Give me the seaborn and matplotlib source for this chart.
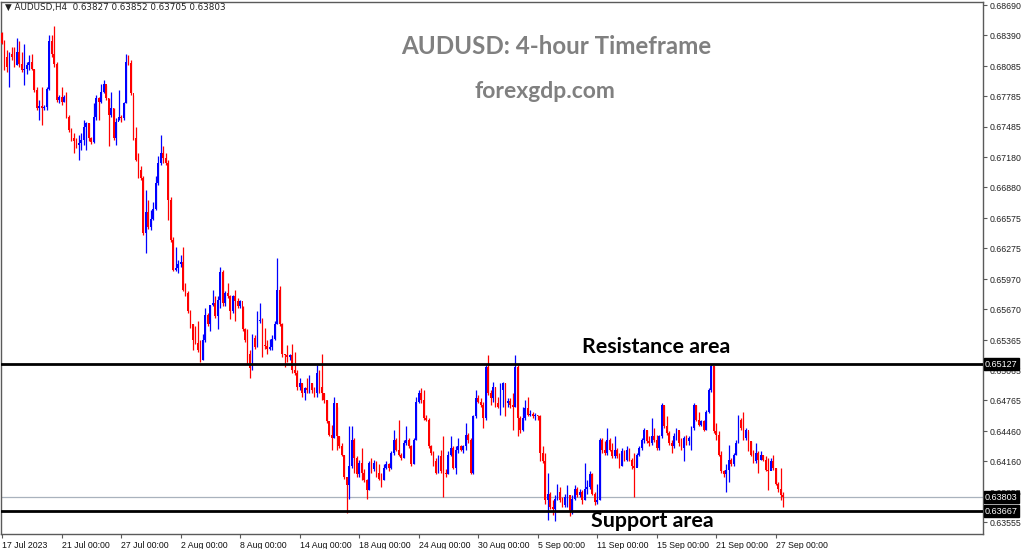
import matplotlib
matplotlib.use("Agg")
import matplotlib.pyplot as plt
import matplotlib.transforms as mtransforms
import seaborn as sns
import numpy as np
import pandas as pd

# ---------------- data (AUDUSD H4) ----------------
first_open = 0.6841

closes = [
    # 17 Jul - 21 Jul
    .6831, .6818, .6808, .6821, .6818, .6810, .6823, .6811, .6805, .6806, .6810, .6813,
    .6806, .6785, .6767, .6769, .6767, .6768, .6786, .6833, .6821, .6811, .6775, .6778,
    # 21 Jul - 27 Jul
    .6773, .6778, .6758, .6745, .6737, .6734, .6730, .6732, .6735, .6748, .6752, .6737,
    .6733, .6758, .6777, .6773, .6783, .6791, .6777, .6760, .6767, .6737, .6753, .6758,
    # 27 Jul - 2 Aug
    .6757, .6772, .6813, .6812, .6782, .6737, .6715, .6705, .6697, .6643, .6664, .6649,
    .6657, .6667, .6692, .6712, .6722, .6717, .6712, .6676, .6636, .6606, .6608, .6612,
    # 2 Aug - 8 Aug
    .6614, .6586, .6583, .6565, .6552, .6537, .6534, .6527, .6517, .6537, .6561, .6552,
    .6571, .6573, .6560, .6576, .6604, .6573, .6583, .6580, .6565, .6580, .6575, .6570,
    # 8 Aug - 14 Aug
    .6575, .6547, .6537, .6523, .6509, .6539, .6530, .6555, .6556, .6532, .6531, .6528,
    .6530, .6538, .6552, .6586, .6552, .6523, .6522, .6520, .6522, .6507, .6504, .6490,
    # 14 Aug - 18 Aug
    .6494, .6484, .6489, .6487, .6494, .6487, .6484, .6504, .6490, .6484, .6477, .6456,
    .6442, .6439, .6474, .6441, .6431, .6422, .6401, .6393, .6411, .6437, .6419, .6403,
    # 18 Aug - 24 Aug
    .6414, .6404, .6398, .6388, .6414, .6408, .6414, .6404, .6399, .6398, .6409, .6413,
    .6409, .6424, .6437, .6427, .6422, .6419, .6434, .6437, .6431, .6413, .6437, .6475,
    # 24 Aug - 30 Aug
    .6484, .6477, .6459, .6457, .6431, .6424, .6416, .6404, .6421, .6406, .6404, .6403,
    .6422, .6429, .6409, .6427, .6431, .6427, .6431, .6442, .6437, .6404, .6461, .6479,
    # 30 Aug - 5 Sep
    .6475, .6472, .6459, .6510, .6484, .6479, .6490, .6474, .6470, .6487, .6494, .6474,
    .6476, .6472, .6470, .6510, .6459, .6447, .6459, .6469, .6462, .6463, .6461, .6462,
    # 5 Sep - 11 Sep
    .6461, .6424, .6416, .6378, .6384, .6371, .6369, .6379, .6386, .6378, .6373, .6381,
    .6383, .6366, .6379, .6389, .6383, .6386, .6378, .6389, .6391, .6403, .6384, .6376,
    # 11 Sep - 15 Sep
    .6378, .6437, .6427, .6424, .6437, .6427, .6421, .6427, .6421, .6411, .6426, .6417,
    .6427, .6417, .6411, .6409, .6422, .6429, .6437, .6447, .6436, .6434, .6441, .6437,
    # 15 Sep - 21 Sep
    .6429, .6441, .6472, .6451, .6444, .6434, .6431, .6441, .6447, .6434, .6429, .6439,
    .6436, .6439, .6449, .6472, .6457, .6452, .6456, .6447, .6465, .6487, .6511, .6446,
    # 21 Sep - 27 Sep and after
    .6442, .6422, .6406, .6403, .6407, .6417, .6413, .6422, .6434, .6457, .6449, .6439,
    .6447, .6436, .6422, .6416, .6424, .6417, .6422, .6417, .6407, .6406, .6416, .6409,
    .6394, .6389, .63827, .63803,
]

highs = [
    .6842, .6834, .6825, .6823, .6828, .6828, .6836, .6833, .6823, .6830, .6813, .6820,
    .6821, .6806, .6788, .6775, .6788, .6770, .6788, .6839, .6839, .6848, .6813, .6780,
    .6788, .6780, .6783, .6760, .6747, .6742, .6737, .6740, .6742, .6755, .6753, .6752,
    .6738, .6772, .6780, .6778, .6791, .6795, .6790, .6777, .6783, .6767, .6757, .6785,
    .6760, .6773, .6821, .6820, .6815, .6780, .6748, .6722, .6709, .6699, .6686, .6676,
    .6666, .6674, .6699, .6719, .6740, .6729, .6722, .6715, .6679, .6639, .6629, .6616,
    .6621, .6629, .6593, .6585, .6566, .6552, .6550, .6555, .6537, .6543, .6568, .6563,
    .6571, .6586, .6580, .6580, .6609, .6606, .6585, .6593, .6581, .6581, .6586, .6578,
    .6576, .6570, .6548, .6547, .6527, .6543, .6542, .6565, .6573, .6558, .6548, .6537,
    .6538, .6542, .6555, .6618, .6590, .6553, .6523, .6532, .6523, .6533, .6525, .6507,
    .6499, .6494, .6490, .6499, .6502, .6494, .6490, .6512, .6507, .6523, .6484, .6477,
    .6454, .6452, .6480, .6470, .6441, .6434, .6422, .6401, .6451, .6451, .6439, .6421,
    .6417, .6429, .6408, .6399, .6416, .6419, .6417, .6416, .6413, .6404, .6413, .6416,
    .6414, .6426, .6447, .6439, .6457, .6424, .6437, .6451, .6439, .6432, .6439, .6480,
    .6487, .6489, .6487, .6462, .6459, .6432, .6426, .6419, .6422, .6427, .6441, .6408,
    .6426, .6441, .6431, .6431, .6439, .6432, .6432, .6454, .6444, .6439, .6462, .6487,
    .6482, .6479, .6475, .6512, .6522, .6487, .6495, .6490, .6480, .6494, .6495, .6494,
    .6479, .6479, .6484, .6522, .6512, .6461, .6470, .6477, .6480, .6467, .6465, .6464,
    .6462, .6462, .6431, .6424, .6404, .6386, .6378, .6383, .6394, .6391, .6381, .6384,
    .6393, .6381, .6383, .6393, .6391, .6389, .6388, .6414, .6398, .6406, .6404, .6386,
    .6394, .6439, .6439, .6436, .6449, .6439, .6434, .6441, .6429, .6424, .6429, .6427,
    .6431, .6429, .6419, .6424, .6424, .6431, .6439, .6449, .6447, .6441, .6459, .6449,
    .6442, .6442, .6474, .6472, .6461, .6446, .6437, .6444, .6449, .6446, .6439, .6441,
    .6442, .6441, .6451, .6474, .6472, .6465, .6457, .6457, .6467, .6489, .6513, .6511,
    .6454, .6446, .6426, .6407, .6413, .6432, .6419, .6424, .6437, .6462, .6459, .6465,
    .6449, .6446, .6436, .6427, .6434, .6426, .6426, .6422, .6421, .6419, .6419, .6422,
    .6409, .6396, .6409, .63852,
]

lows = [
    .6830, .6805, .6803, .6788, .6815, .6808, .6810, .6808, .6803, .6790, .6801, .6805,
    .6805, .6783, .6765, .6755, .6750, .6765, .6765, .6785, .6818, .6808, .6773, .6772,
    .6770, .6773, .6757, .6743, .6734, .6722, .6727, .6715, .6725, .6730, .6725, .6734,
    .6731, .6732, .6755, .6755, .6772, .6782, .6775, .6729, .6758, .6735, .6730, .6755,
    .6753, .6755, .6772, .6810, .6780, .6735, .6714, .6697, .6695, .6641, .6623, .6647,
    .6646, .6656, .6666, .6690, .6710, .6712, .6710, .6656, .6634, .6605, .6605, .6603,
    .6609, .6585, .6580, .6563, .6548, .6527, .6533, .6525, .6515, .6517, .6535, .6550,
    .6545, .6570, .6558, .6547, .6568, .6570, .6570, .6578, .6557, .6563, .6555, .6568,
    .6568, .6545, .6535, .6513, .6499, .6507, .6528, .6530, .6553, .6520, .6528, .6523,
    .6527, .6527, .6537, .6552, .6550, .6520, .6510, .6515, .6517, .6504, .6502, .6487,
    .6487, .6480, .6477, .6484, .6484, .6484, .6480, .6480, .6484, .6477, .6474, .6454,
    .6441, .6427, .6439, .6427, .6429, .6421, .6399, .6365, .6379, .6409, .6404, .6401,
    .6401, .6398, .6396, .6379, .6388, .6404, .6406, .6401, .6398, .6391, .6398, .6408,
    .6406, .6408, .6422, .6426, .6421, .6417, .6419, .6432, .6429, .6411, .6413, .6437,
    .6474, .6474, .6457, .6456, .6429, .6422, .6411, .6403, .6404, .6404, .6381, .6401,
    .6403, .6421, .6408, .6403, .6424, .6426, .6424, .6427, .6434, .6403, .6403, .6459,
    .6474, .6470, .6449, .6457, .6482, .6472, .6475, .6470, .6469, .6462, .6470, .6461,
    .6470, .6469, .6447, .6470, .6441, .6444, .6446, .6457, .6461, .6461, .6459, .6457,
    .6457, .6416, .6414, .6374, .6358, .6369, .6363, .6357, .6378, .6376, .6371, .6371,
    .6371, .6362, .6364, .6378, .6381, .6381, .6374, .6378, .6384, .6389, .6383, .6373,
    .6374, .6378, .6424, .6422, .6422, .6426, .6419, .6419, .6419, .6409, .6411, .6416,
    .6416, .6416, .6408, .6381, .6411, .6421, .6427, .6434, .6434, .6431, .6432, .6435,
    .6427, .6427, .6439, .6449, .6442, .6432, .6424, .6429, .6437, .6431, .6427, .6416,
    .6432, .6432, .6427, .6447, .6456, .6451, .6451, .6446, .6447, .6464, .6485, .6444,
    .6437, .6421, .6404, .6401, .6386, .6396, .6411, .6411, .6422, .6434, .6447, .6437,
    .6437, .6426, .6421, .6414, .6414, .6404, .6417, .6416, .6406, .6388, .6407, .6407,
    .6393, .6386, .6378, .63705,
]

last_open = 0.63827
resistance = 0.65127
support = 0.63667
current_price = 0.63803

x_tick_labels = ["17 Jul 2023", "21 Jul 00:00", "27 Jul 00:00", "2 Aug 00:00",
                 "8 Aug 00:00", "14 Aug 00:00", "18 Aug 00:00", "24 Aug 00:00",
                 "30 Aug 00:00", "5 Sep 00:00", "11 Sep 00:00", "15 Sep 00:00",
                 "21 Sep 00:00", "27 Sep 00:00"]
bars_per_label = 24
y_tick_values = [0.68690, 0.68390, 0.68085, 0.67785, 0.67485, 0.67180, 0.66880,
                 0.66575, 0.66275, 0.65970, 0.65670, 0.65365, 0.65065, 0.64765,
                 0.64460, 0.64160, 0.63855, 0.63555]

header = "\u25BC AUDUSD,H4  0.63827 0.63852 0.63705 0.63803"
title = "AUDUSD: 4-hour Timeframe"
subtitle = "forexgdp.com"
resistance_label = "Resistance area"
support_label = "Support area"

# ---------------- build frame ----------------
n = min(len(closes), len(highs), len(lows))
df = pd.DataFrame({"close": closes[:n], "high": highs[:n], "low": lows[:n]})
# 4H forex bars open at the previous bar's close
df["open"] = [first_open] + list(df["close"].iloc[:-1])
df.loc[n - 1, "open"] = last_open
df["bar"] = np.arange(n)
df["dir"] = np.where(df["close"] >= df["open"], "up", "down")

sns.set_theme(style="white")
plt.rcParams["font.family"] = ["Liberation Sans", "DejaVu Sans"]

fig = plt.figure(figsize=(10.24, 5.49), dpi=100)
fig.patch.set_facecolor("white")
ax = fig.add_axes([1 / 1024, 15 / 549, 982 / 1024, 532 / 549])
ax.set_facecolor("white")

palette = {"up": "#0000ff", "down": "#ff0000"}

for d, g in df.groupby("dir"):
    ax.vlines(g["bar"], g["low"], g["high"], color=palette[d], lw=0.9, zorder=3)
    ax.bar(g["bar"], g["close"] - g["open"], bottom=g["open"], width=0.7,
           color=palette[d], linewidth=0, zorder=4)

# horizontal levels
ax.axhline(current_price, color="#a9b2bd", lw=0.9, zorder=2)
ax.axhline(resistance, color="black", lw=2.0, zorder=5)
ax.axhline(support, color="black", lw=2.0, zorder=5)

ax.set_xlim(-0.4, 395.6)
ax.set_ylim(0.63439, 0.68722)

for s in ax.spines.values():
    s.set_visible(True)
    s.set_color("#5a5a5a")
    s.set_linewidth(1.0)

# x ticks
xt = [i * bars_per_label for i in range(len(x_tick_labels))]
ax.set_xticks(xt)
ax.set_xticklabels(x_tick_labels, ha="left", fontsize=6.3, color="#111111")
ax.tick_params(axis="x", direction="out", length=3, width=0.8, color="#5a5a5a", pad=2,
               bottom=True)

# y ticks on the right (as in the terminal, the price boxes partly cover some labels)
ax.yaxis.tick_right()
ax.set_yticks(y_tick_values)
ax.set_yticklabels([f"{v:.5f}" for v in y_tick_values], fontsize=6.3, color="#222222")
ax.tick_params(axis="y", direction="out", length=3, width=0.8, color="#5a5a5a", pad=2,
               right=True, left=False)
ax.grid(False)

# boxed price labels at the right edge
trans = mtransforms.blended_transform_factory(ax.transAxes, ax.transData)
for v in (resistance, current_price, support):
    ax.text(1.002, v, f"{v:.5f}", transform=trans, ha="left", va="center",
            fontsize=6.5, color="white", zorder=10, clip_on=False,
            bbox=dict(boxstyle="square,pad=0.15", fc="black", ec="black"))

# header and titles
fig.text(5 / 1024, 1 - 7 / 549, header, fontsize=6.3, color="#222222",
         ha="left", va="center", family=["DejaVu Sans"])
fig.text(556 / 1024, 1 - 47 / 549, title, fontsize=17.4, fontweight="bold",
         color="#808080", ha="center", va="center", family=["Lato", "DejaVu Sans"])
fig.text(545 / 1024, 1 - 92 / 549, subtitle, fontsize=16.5, fontweight="bold",
         color="#808080", ha="center", va="center", family=["Lato", "DejaVu Sans"])

fig.text(656 / 1024, 1 - 347 / 549, resistance_label, fontsize=15.4,
         fontweight="bold", color="black", ha="center", va="center",
         family=["Lato", "DejaVu Sans"], zorder=10)
fig.text(652 / 1024, 1 - 521 / 549, support_label, fontsize=15.4,
         fontweight="bold", color="black", ha="center", va="center",
         family=["Lato", "DejaVu Sans"], zorder=10)

fig.savefig("out.png", dpi=100, facecolor="white")
